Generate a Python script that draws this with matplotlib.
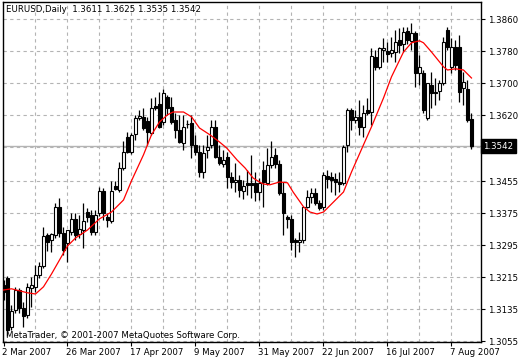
import matplotlib
matplotlib.use('Agg')
import matplotlib.pyplot as plt
import matplotlib.transforms as mtransforms

symbol = "EURUSD,Daily"
date_labels = ['2 Mar 2007', '26 Mar 2007', '17 Apr 2007', '9 May 2007',
               '31 May 2007', '22 Jun 2007', '16 Jul 2007', '7 Aug 2007']
date_bars = [0, 16, 32, 48, 64, 80, 96, 112]

opens = [1.3196, 1.3213, 1.3091, 1.3133, 1.3183, 1.3138, 1.3121, 1.3188, 1.3191, 1.3221,
         1.3243, 1.3321, 1.3308, 1.3321, 1.3391, 1.3326, 1.3301, 1.3328, 1.3361, 1.3323,
         1.3333, 1.3378, 1.3371, 1.3328, 1.3376, 1.3431, 1.3366, 1.3356, 1.3443, 1.3433,
         1.3488, 1.3566, 1.3528, 1.3573, 1.3613, 1.3616, 1.3606, 1.3576, 1.3643, 1.3648,
         1.3603, 1.3666, 1.3641, 1.3608, 1.3583, 1.3551, 1.3598, 1.3601, 1.3546, 1.3528,
         1.3478, 1.3533, 1.3546, 1.3591, 1.3516, 1.3498, 1.3516, 1.3466, 1.3453, 1.3458,
         1.3431, 1.3451, 1.3451, 1.3451, 1.3428, 1.3483, 1.3451, 1.3496, 1.3521, 1.3498,
         1.3426, 1.3366, 1.3361, 1.3308, 1.3303, 1.3308, 1.3391, 1.3416, 1.3426, 1.3401,
         1.3391, 1.3468, 1.3466, 1.3461, 1.3453, 1.3451, 1.3546, 1.3633, 1.3608, 1.3616,
         1.3591, 1.3633, 1.3628, 1.3766, 1.3741, 1.3783, 1.3781, 1.3776, 1.3778, 1.3808,
         1.3798, 1.3831, 1.3806, 1.3826, 1.3726, 1.3726, 1.3613, 1.3696, 1.3678, 1.3681,
         1.3701, 1.3833, 1.3741, 1.3791, 1.3791, 1.3688, 1.3686, 1.3611]
highs = [1.3208, 1.3218, 1.3146, 1.3191, 1.3188, 1.3153, 1.3201, 1.3216, 1.3246, 1.3253,
         1.3341, 1.3326, 1.3326, 1.3401, 1.3413, 1.3341, 1.3333, 1.3376, 1.3376, 1.3371,
         1.3401, 1.3388, 1.3383, 1.3383, 1.3441, 1.3438, 1.3376, 1.3456, 1.3456, 1.3503,
         1.3556, 1.3578, 1.3576, 1.3621, 1.3633, 1.3638, 1.3616, 1.3663, 1.3666, 1.3678,
         1.3686, 1.3671, 1.3666, 1.3626, 1.3621, 1.3621, 1.3608, 1.3621, 1.3571, 1.3546,
         1.3546, 1.3571, 1.3608, 1.3608, 1.3546, 1.3533, 1.3528, 1.3478, 1.3501, 1.3471,
         1.3458, 1.3483, 1.3521, 1.3478, 1.3463, 1.3506, 1.3538, 1.3556, 1.3538, 1.3508,
         1.3453, 1.3371, 1.3371, 1.3313, 1.3328, 1.3391, 1.3433, 1.3438, 1.3438, 1.3408,
         1.3478, 1.3483, 1.3478, 1.3476, 1.3478, 1.3546, 1.3638, 1.3638, 1.3633, 1.3658,
         1.3646, 1.3663, 1.3788, 1.3783, 1.3791, 1.3813, 1.3803, 1.3816, 1.3833, 1.3838,
         1.3841, 1.3841, 1.3851, 1.3831, 1.3771, 1.3733, 1.3701, 1.3728, 1.3713, 1.3708,
         1.3816, 1.3841, 1.3813, 1.3808, 1.3821, 1.3728, 1.3708, 1.3625]
lows = [1.3158, 1.3068, 1.3083, 1.3126, 1.3126, 1.3091, 1.3113, 1.3141, 1.3178, 1.3213,
        1.3238, 1.3281, 1.3278, 1.3313, 1.3316, 1.3271, 1.3253, 1.3321, 1.3308, 1.3313,
        1.3288, 1.3353, 1.3321, 1.3321, 1.3368, 1.3358, 1.3341, 1.3351, 1.3433, 1.3428,
        1.3483, 1.3526, 1.3523, 1.3558, 1.3608, 1.3583, 1.3546, 1.3571, 1.3633, 1.3588,
        1.3596, 1.3621, 1.3598, 1.3563, 1.3551, 1.3533, 1.3588, 1.3513, 1.3521, 1.3466,
        1.3463, 1.3513, 1.3538, 1.3513, 1.3496, 1.3491, 1.3438, 1.3438, 1.3428, 1.3416,
        1.3411, 1.3421, 1.3413, 1.3406, 1.3408, 1.3391, 1.3446, 1.3488, 1.3488, 1.3421,
        1.3321, 1.3338, 1.3283, 1.3266, 1.3278, 1.3301, 1.3388, 1.3401, 1.3396, 1.3383,
        1.3383, 1.3438, 1.3428, 1.3421, 1.3428, 1.3446, 1.3528, 1.3583, 1.3601, 1.3571,
        1.3566, 1.3621, 1.3596, 1.3733, 1.3736, 1.3753, 1.3753, 1.3766, 1.3753, 1.3776,
        1.3778, 1.3798, 1.3783, 1.3691, 1.3696, 1.3626, 1.3608, 1.3638, 1.3646, 1.3658,
        1.3696, 1.3783, 1.3726, 1.3733, 1.3653, 1.3646, 1.3603, 1.3535]
closes = [1.3178, 1.3083, 1.3131, 1.3183, 1.3138, 1.3118, 1.3191, 1.3196, 1.3221, 1.3243,
          1.3318, 1.3303, 1.3323, 1.3391, 1.3326, 1.3283, 1.3333, 1.3361, 1.3321, 1.3336,
          1.3356, 1.3366, 1.3328, 1.3371, 1.3431, 1.3376, 1.3358, 1.3431, 1.3436, 1.3488,
          1.3528, 1.3528, 1.3571, 1.3613, 1.3618, 1.3588, 1.3578, 1.3638, 1.3638, 1.3591,
          1.3676, 1.3638, 1.3603, 1.3583, 1.3553, 1.3591, 1.3598, 1.3546, 1.3528, 1.3478,
          1.3526, 1.3541, 1.3591, 1.3516, 1.3501, 1.3508, 1.3466, 1.3453, 1.3458, 1.3433,
          1.3443, 1.3446, 1.3446, 1.3428, 1.3451, 1.3453, 1.3496, 1.3516, 1.3498, 1.3426,
          1.3376, 1.3361, 1.3303, 1.3303, 1.3308, 1.3391, 1.3416, 1.3426, 1.3401, 1.3388,
          1.3471, 1.3461, 1.3458, 1.3453, 1.3448, 1.3541, 1.3633, 1.3608, 1.3616, 1.3591,
          1.3626, 1.3626, 1.3768, 1.3741, 1.3788, 1.3788, 1.3773, 1.3783, 1.3803, 1.3796,
          1.3828, 1.3808, 1.3826, 1.3726, 1.3741, 1.3633, 1.3701, 1.3676, 1.3676, 1.3701,
          1.3803, 1.3791, 1.3791, 1.3746, 1.3678, 1.3703, 1.3608, 1.3542]

ma_bars = [0, 2, 4, 6, 8, 10, 12, 14, 16, 18, 21, 24, 27, 30, 32, 35, 37, 39, 41, 42.4,
           45, 47, 49, 51.6, 54, 55.8, 58.4, 60.4, 62.4, 64, 65, 66.6, 69, 71, 72.4, 75,
           76.6, 78.4, 80, 82, 85, 87, 90, 92, 95, 97, 100, 102, 104, 105, 107, 110, 111,
           113, 115, 117]
ma_values = [1.3183, 1.3186, 1.3181, 1.3176, 1.3173, 1.3191, 1.3223, 1.3258, 1.3293, 1.3313,
             1.3333, 1.3361, 1.3378, 1.3408, 1.3456, 1.3521, 1.3571, 1.3603, 1.3621, 1.3628,
             1.3628, 1.3616, 1.3588, 1.3571, 1.3553, 1.3538, 1.3508, 1.3488, 1.3463, 1.3453,
             1.3448, 1.3446, 1.3453, 1.3451, 1.3428, 1.3391, 1.3378, 1.3373, 1.3378, 1.3398,
             1.3428, 1.3478, 1.3546, 1.3591, 1.3663, 1.3716, 1.3778, 1.3801, 1.3806, 1.3801,
             1.3778, 1.3741, 1.3733, 1.3736, 1.3733, 1.3713]

price_ticks = [1.3860, 1.3780, 1.3700, 1.3620, 1.3455, 1.3375, 1.3295, 1.3215, 1.3135, 1.3055]
price_tick_labels = ['1.3860', '1.3780', '1.3700', '1.3620', '1.3455', '1.3375',
                     '1.3295', '1.3215', '1.3135', '1.3055']
hidden_grid_price = 1.3540

W, H = 520, 360
fig = plt.figure(figsize=(W / 100, H / 100), dpi=100)
fig.patch.set_facecolor('white')
ax = fig.add_axes([3 / W, 1 - 342 / H, (481 - 3) / W, (342 - 2) / H])
ax.set_facecolor('white')

FONT = 'DejaVu Sans'
FS = 6.2

n = len(opens)
xs = list(range(n))

# grid
grid_col = '#b4b4b4'
for gx in range(8, n + 2, 8):
    ax.axvline(gx, color=grid_col, lw=0.8, ls=(0, (3, 3)), zorder=0)
for gy in price_ticks + [hidden_grid_price]:
    ax.axhline(gy, color=grid_col, lw=0.8, ls=(0, (3, 3)), zorder=0)

# current price line
last_close = closes[-1]
ax.axhline(last_close, color='#b4b4b4', lw=1.0, zorder=1)

# wicks
ax.vlines(xs, lows, highs, color='black', lw=0.9, zorder=2)

# bodies
for i in range(n):
    o, c = opens[i], closes[i]
    bottom = min(o, c)
    height = abs(c - o)
    face = 'white' if c >= o else 'black'
    ax.bar(i, height, bottom=bottom, width=0.58, color=face, edgecolor='black',
           linewidth=0.8, zorder=3)

# moving average
ax.plot(ma_bars, ma_values, color='#ff0000', lw=0.9, zorder=4)

ax.set_xlim(-0.125, 119.375)
ax.set_ylim(1.3053, 1.3903)

for sp in ax.spines.values():
    sp.set_color('black')
    sp.set_linewidth(1.0)

ax.yaxis.tick_right()
ax.set_yticks(price_ticks)
ax.set_yticklabels(price_tick_labels, fontsize=FS, family=FONT)
ax.tick_params(axis='y', direction='out', length=3, width=0.8, pad=2, colors='black')

ax.set_xticks(date_bars)
ax.set_xticklabels(date_labels, fontsize=FS, family=FONT, ha='left')
ax.tick_params(axis='x', direction='out', length=3, width=0.8, pad=1, colors='black')
offset = mtransforms.ScaledTranslation(-1 / 100, 0, fig.dpi_scale_trans)
for lbl in ax.get_xticklabels():
    lbl.set_transform(lbl.get_transform() + offset)

# current price box
trans = mtransforms.blended_transform_factory(ax.transAxes, ax.transData)
ax.text(1.005, last_close, f'{last_close:.4f}', transform=trans, ha='left', va='center',
        fontsize=FS, family=FONT, color='white', clip_on=False, zorder=6,
        bbox=dict(boxstyle='square,pad=0.3', facecolor='black', edgecolor='black'))

# header text
header = f"{symbol}  {opens[-1]:.4f} {highs[-1]:.4f} {lows[-1]:.4f} {closes[-1]:.4f}"
ax.text(0.006, 0.99, header, transform=ax.transAxes, ha='left', va='top',
        fontsize=FS, family=FONT, color='black', zorder=6)

# copyright
ax.text(0.006, 0.006, "MetaTrader, © 2001-2007 MetaQuotes Software Corp.",
        transform=ax.transAxes, ha='left', va='bottom', fontsize=FS, family=FONT,
        color='black', zorder=6)

fig.savefig('out.png', dpi=100, facecolor='white')
